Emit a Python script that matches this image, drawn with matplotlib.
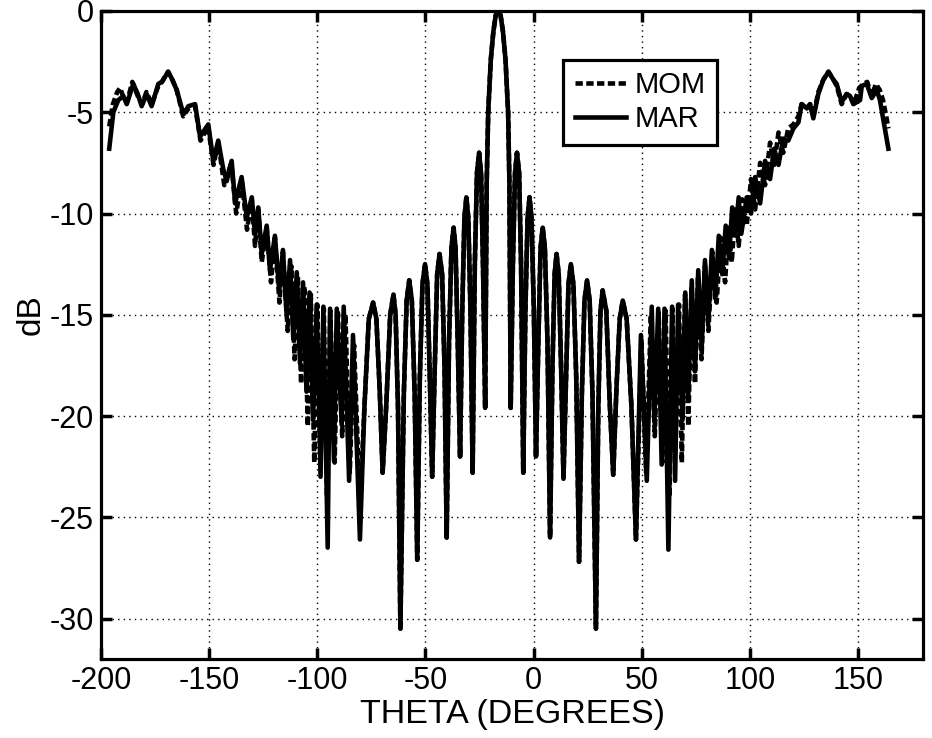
import matplotlib
matplotlib.use("Agg")
import matplotlib.pyplot as plt

plt.rcParams['font.family'] = ['Liberation Sans', 'DejaVu Sans']
plt.rcParams['axes.unicode_minus'] = False

# ---- data (theta in degrees, level in dB) ----
# MAR (solid) left shoulder / dense region
mar_left_theta = [-196.2, -194.3, -192.0, -189.7, -188.1, -185.1, -183.0, -181.2, -178.9, -176.6,
                  -173.5, -171.9, -168.9, -167.0, -165.0, -161.9, -159.6, -156.5, -154.2, -150.4,
                  -148.1, -145.8, -143.5, -141.9, -139.6, -138.0, -135.0, -132.6, -130.3, -128.8,
                  -127.3, -125.7, -123.4, -121.9, -119.6, -117.6, -115.9, -114.2, -112.6, -111.1,
                  -109.5, -108.0, -106.6, -105.0, -103.6, -102.0, -100.3, -98.5, -97.2, -95.2,
                  -94.1, -92.3, -91.0, -88.8, -87.8, -85.3, -83.5, -80.3]
mar_left_db = [-6.8, -5.0, -4.4, -4.2, -4.6, -3.6, -4.1, -4.7, -4.1, -4.7,
               -3.6, -3.5, -3.0, -3.4, -3.9, -5.1, -4.7, -4.6, -6.2, -5.6,
               -7.4, -6.4, -7.8, -8.4, -7.4, -9.5, -8.2, -10.2, -9.2, -11.0,
               -9.7, -12.0, -10.6, -12.8, -11.1, -13.8, -11.8, -15.0, -12.3, -16.2,
               -12.9, -17.4, -13.4, -18.8, -13.9, -20.2, -14.5, -23.0, -14.6, -26.5,
               -14.7, -22.2, -14.7, -20.3, -14.6, -23.2, -16.0, -26.1]

# central lobes (both methods agree), nulls, shoulders and peaks
center_theta = [-78.2, -76.2, -74.2, -72.7, -71.2, -69.8,
                -68.1, -66.3, -64.8, -63.8, -62.7, -61.6,
                -60.0, -58.7, -57.5, -56.3, -55.0, -53.8,
                -52.6, -51.4, -50.2, -49.1, -48.0, -46.9,
                -45.7, -44.6, -43.5, -42.3, -41.2, -40.2,
                -39.1, -38.0, -37.0, -36.1, -35.1, -34.0,
                -33.0, -32.0, -31.1, -30.2, -29.2, -28.2,
                -27.2, -26.2, -25.2, -24.3, -23.4, -22.4,
                -21.7, -21.0, -19.8, -18.6, -17.5, -16.4, -15.3, -14.2, -13.0, -11.8, -11.2, -10.6,
                -9.6, -8.6, -7.7, -6.7, -5.8, -4.8,
                -3.8, -2.8, -1.9, -1.0, 0.1, 1.1,
                2.2, 3.2, 4.2, 5.2, 6.4, 7.6,
                8.7, 9.7, 10.6, 11.6, 12.7, 13.8,
                15.0, 16.1, 17.2, 18.4, 19.7, 21.0,
                22.3, 23.5, 24.7, 25.9, 27.2, 28.8,
                29.9, 30.9, 31.9, 33.6, 35.2, 36.8,
                38.3, 39.8, 41.2, 43.0, 45.2]
center_db = [-19.5, -15.2, -14.4, -15.2, -18.6, -22.8,
             -19.4, -15.0, -14.0, -15.0, -19.6, -30.5,
             -18.9, -14.3, -13.3, -14.3, -18.9, -27.1,
             -18.1, -13.5, -12.5, -13.5, -18.1, -23.0,
             -17.6, -13.0, -12.0, -13.0, -17.6, -26.0,
             -16.3, -11.7, -10.7, -11.7, -16.3, -22.0,
             -14.8, -10.2, -9.2, -10.2, -14.8, -22.8,
             -12.6, -8.0, -7.0, -8.0, -12.6, -19.6,
             -8.5, -5.0, -2.4, -1.0, -0.2, 0.0, -0.2, -1.0, -2.4, -5.0, -8.5, -19.6,
             -12.6, -8.0, -7.0, -8.0, -12.6, -22.8,
             -14.8, -10.2, -9.2, -10.2, -14.8, -22.0,
             -16.3, -11.7, -10.7, -11.7, -16.3, -26.0,
             -17.6, -13.0, -12.0, -13.0, -17.6, -23.1,
             -18.1, -13.5, -12.5, -13.5, -18.1, -27.2,
             -18.9, -14.3, -13.3, -14.3, -18.9, -30.5,
             -19.6, -14.8, -13.8, -14.8, -19.4, -22.9,
             -18.6, -15.2, -14.3, -15.2, -19.5]

# MAR right dense region / shoulder
mar_right_theta = [47.3, 49.6, 52.3, 54.6, 55.8, 57.6, 59.2, 60.5, 62.3, 64.0,
                   65.4, 66.8, 68.8, 70.1, 71.5, 73.1, 74.6, 76.1, 77.7, 79.2,
                   80.8, 82.4, 84.0, 85.6, 87.2, 88.8, 90.3, 91.8, 93.3, 94.8,
                   96.0, 98.5, 100.5, 102.4, 104.7, 107.0, 109.3, 111.2, 113.2, 115.4,
                   117.7, 120.1, 122.4, 123.9, 126.3, 127.8, 129.3, 131.6, 133.9, 136.3,
                   138.6, 140.1, 142.4, 144.7, 146.3, 147.8, 150.9, 151.7, 154.0, 156.3,
                   158.6, 160.1, 161.7, 164.0]
mar_right_db = [-26.1, -16.0, -23.2, -14.6, -20.3, -14.7, -22.4, -14.7, -26.6, -14.6,
                -23.2, -14.5, -20.2, -13.9, -19.0, -13.3, -17.8, -12.8, -16.6, -12.3,
                -15.3, -11.8, -14.2, -11.1, -13.0, -10.6, -12.2, -9.7, -11.0, -9.2,
                -11.0, -9.2, -10.0, -8.2, -9.5, -7.4, -8.3, -6.8, -7.6, -6.3,
                -6.4, -5.8, -5.5, -4.6, -4.8, -4.6, -5.3, -4.1, -3.4, -3.0,
                -3.4, -3.6, -4.5, -4.1, -4.2, -4.6, -4.4, -3.7, -3.6, -4.3,
                -3.9, -4.4, -5.4, -6.8]

# MOM (dashed) left shoulder / dense region
mom_left_theta = [-196.2, -194.5, -192.5, -191.2, -189.5, -188.0, -185.5, -183.0, -181.0, -179.0,
                  -176.5, -173.5, -171.8, -169.0, -167.0, -165.0, -162.0, -159.5, -156.5, -154.0,
                  -150.5, -148.0, -145.8, -143.0, -139.8, -137.5, -135.0, -132.5, -130.3, -128.8,
                  -127.3, -125.7, -123.4, -121.4, -119.6, -117.5, -115.9, -113.7, -112.0, -110.5,
                  -109.0, -107.5, -106.0, -104.4, -103.0, -101.4, -100.0, -98.5, -97.0, -95.5,
                  -94.0, -92.0, -90.5, -88.5, -87.0, -85.0, -83.0, -80.3]
mom_left_db = [-5.7, -4.6, -4.0, -3.8, -4.3, -4.5, -3.5, -4.2, -4.6, -4.0,
               -4.6, -3.7, -3.5, -3.0, -3.4, -3.9, -5.2, -4.8, -4.7, -6.4,
               -5.7, -7.6, -6.5, -8.6, -7.5, -10.0, -8.3, -10.8, -9.3, -11.6,
               -9.8, -12.4, -10.7, -13.4, -11.2, -14.4, -11.9, -15.8, -12.6, -17.2,
               -13.1, -18.4, -13.6, -20.5, -14.0, -22.3, -14.5, -21.5, -14.7, -24.0,
               -14.8, -22.3, -14.9, -21.0, -15.0, -22.8, -16.5, -24.5]

# MOM right dense region / shoulder
mom_right_theta = [47.3, 49.8, 52.0, 54.2, 56.0, 57.8, 59.5, 61.0, 62.8, 64.2,
                   65.6, 67.2, 68.5, 70.0, 71.5, 73.0, 74.6, 76.0, 77.6, 79.2,
                   80.8, 82.6, 84.6, 86.5, 88.5, 90.0, 91.6, 93.2, 94.8, 96.4,
                   98.5, 100.5, 102.4, 104.7, 107.0, 109.3, 111.2, 113.2, 115.4, 117.7,
                   120.1, 122.4, 123.9, 126.3, 127.8, 129.3, 131.6, 133.9, 136.3, 138.6,
                   140.1, 142.4, 144.7, 146.3, 148.0, 150.5, 152.5, 154.2, 156.3, 158.2,
                   160.0, 161.5, 163.0, 164.0]
mom_right_db = [-26.1, -16.2, -22.8, -15.0, -21.0, -14.9, -22.3, -14.8, -24.0, -14.7,
                -21.5, -14.5, -22.3, -14.0, -20.5, -13.6, -18.4, -13.1, -17.2, -12.6,
                -15.8, -11.9, -14.4, -11.2, -13.4, -10.7, -12.4, -9.8, -11.6, -9.3,
                -10.6, -8.3, -9.8, -7.5, -8.6, -6.5, -7.6, -6.0, -7.0, -5.8,
                -5.6, -5.2, -4.6, -4.8, -4.6, -5.2, -4.0, -3.4, -3.0, -3.4,
                -3.7, -4.6, -4.1, -4.2, -4.6, -3.8, -3.6, -3.5, -4.2, -3.6,
                -3.9, -4.4, -5.2, -5.8]

x_ticks = [-200, -150, -100, -50, 0, 50, 100, 150]
y_ticks = [-30, -25, -20, -15, -10, -5, 0]

mar_theta = mar_left_theta + center_theta + mar_right_theta
mar_db = mar_left_db + center_db + mar_right_db
mom_theta = mom_left_theta + center_theta + mom_right_theta
mom_db = mom_left_db + center_db + mom_right_db

fig = plt.figure(figsize=(9.32, 7.38), dpi=100)
ax = fig.add_axes([101/932, 1 - 659/738, 822/932, 648/738])

ax.plot(mom_theta, mom_db, color='black', lw=3.3, linestyle=(0, (1.6, 0.75)), label='MOM')
ax.plot(mar_theta, mar_db, color='black', lw=3.3, linestyle='-', label='MAR')

ax.set_xlim(-200, 180)
ax.set_ylim(-32, 0)
ax.set_xticks(x_ticks)
ax.set_yticks(y_ticks)
ax.grid(True, color='black', linestyle=(0, (1, 3)), linewidth=1.0)
ax.tick_params(direction='in', length=8, width=2.5, top=True, right=True,
               labelsize=22, pad=5)
for s in ax.spines.values():
    s.set_linewidth(2.3)
ax.set_xlabel('THETA (DEGREES)', fontsize=24.5, labelpad=2)
ax.set_ylabel('dB', fontsize=24)
ax.yaxis.set_label_coords(-0.066, 0.531)

leg = ax.legend(loc='upper left', bbox_to_anchor=(0.562, 0.925), borderaxespad=0,
                fontsize=21, handlelength=1.75, handletextpad=0.3, borderpad=0.4,
                labelspacing=0.2, fancybox=False, framealpha=1, edgecolor='black')
leg.get_frame().set_linewidth(2.3)

fig.savefig('out.png', dpi=100)
